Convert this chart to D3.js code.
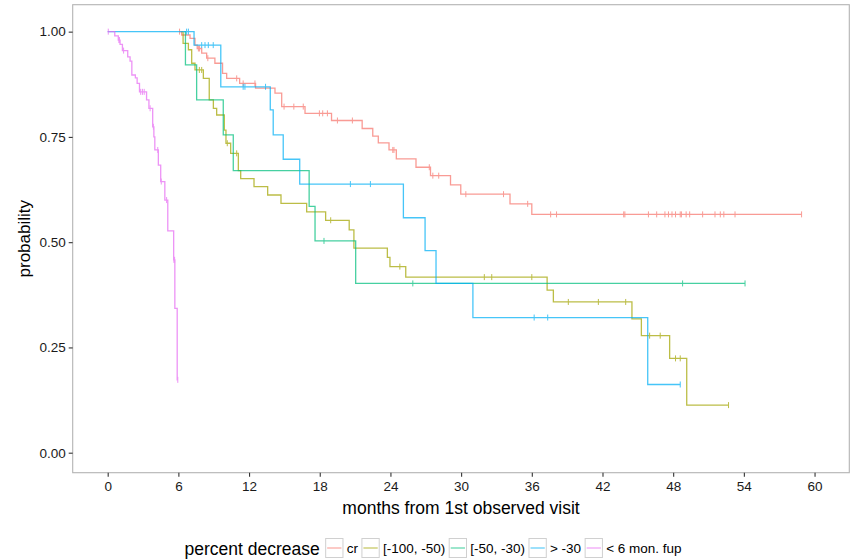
<!DOCTYPE html>
<html>
<head>
<meta charset="utf-8">
<script src="https://cdn.jsdelivr.net/npm/d3@7"></script>
<style>
  body { margin: 0; background: #fff; }
  svg { font-family: "Liberation Sans", Arial, sans-serif; }
</style>
</head>
<body>
<svg width="856" height="560"></svg>
<script>
// groups (legend order)
var groups = ["cr", "[-100, -50)", "[-50, -30)", "> -30", "< 6 mon. fup"];
var colors = ["#F8766D", "#A3A500", "#00BF7D", "#00B0F6", "#E76BF3"];

// first observed time of each group (curve starts here at 1.0)
var startTimes = [6.1, 6.25, 6.5, 0, 0];

// step times (months) and survival after each step
var crTimes = [6.28, 6.99, 7.41, 7.6, 7.98, 8.4, 9.1, 9.75, 10.1, 11.2, 12.55, 14.2, 14.77, 16.75, 19.0, 21.6, 22.5, 22.97, 23.88, 24.5, 26.17, 27.4, 29.1, 29.97, 34.15, 36.0];
var crSurv  = [0.992, 0.984, 0.968, 0.96, 0.949, 0.937, 0.925, 0.901, 0.889, 0.877, 0.866, 0.854, 0.822, 0.806, 0.789, 0.77, 0.752, 0.736, 0.719, 0.698, 0.678, 0.658, 0.636, 0.614, 0.591, 0.566];
var crCensor = [6.1, 7.7, 7.8, 8.5, 10.95, 11.5, 12.5, 14.97, 15.8, 16.6, 17.97, 18.25, 18.65, 19.5, 20.77, 24.2, 24.3, 27.3, 27.6, 28.1, 30.4, 33.6, 35.65, 37.6, 38.1, 43.8, 43.9, 45.9, 46.6, 47.3, 47.6, 47.9, 48.2, 48.6, 48.7, 49.1, 49.4, 50.5, 51.55, 52.0, 52.3, 53.25, 58.9];

var hiTimes = [6.4, 6.85, 7.13, 7.41, 8.12, 8.62, 8.97, 9.25, 9.9, 10.04, 10.44, 11.09, 11.29, 12.42, 13.58, 14.71, 16.89, 18.5, 20.5, 20.9, 23.74, 23.96, 25.3, 37.3, 37.83, 44.5, 45.3, 47.7, 49.15];
var hiSurv  = [0.972, 0.957, 0.925, 0.909, 0.889, 0.838, 0.818, 0.802, 0.766, 0.735, 0.711, 0.67, 0.651, 0.632, 0.612, 0.592, 0.572, 0.552, 0.529, 0.486, 0.464, 0.442, 0.417, 0.386, 0.358, 0.318, 0.278, 0.224, 0.113];
var hiCensor = [7.78, 7.98, 10.15, 10.95, 18.93, 24.8, 31.97, 32.6, 36.0, 39.1, 41.65, 43.97, 46.0, 46.9, 48.2, 48.6, 52.7];

var midTimes = [6.6, 7.55, 9.81, 10.66, 17.1, 17.6, 21.05];
var midSurv  = [0.921, 0.838, 0.755, 0.67, 0.585, 0.503, 0.402];
var midCensor = [18.36, 25.9, 48.8, 54.1];

var loTimes = [7.33, 9.6, 13.8, 14.05, 14.9, 16.3, 25.1, 26.94, 27.87, 31.0, 45.84];
var loSurv  = [0.968, 0.869, 0.814, 0.755, 0.697, 0.638, 0.558, 0.48, 0.402, 0.321, 0.162];
var loCensor = [6.7, 6.85, 7.98, 8.26, 8.54, 8.96, 11.5, 11.65, 13.4, 20.6, 22.3, 36.2, 37.35, 48.6];

var fupTimes = [0.6, 0.9, 1.05, 1.25, 1.7, 1.9, 2.05, 2.35, 2.5, 2.7, 3.3, 3.5, 3.82, 3.92, 4.0, 4.3, 4.5, 4.85, 5.1, 5.6, 5.7, 5.9];
var fupSurv  = [0.99, 0.98, 0.97, 0.955, 0.94, 0.93, 0.897, 0.89, 0.877, 0.857, 0.838, 0.818, 0.774, 0.75, 0.719, 0.683, 0.644, 0.6, 0.527, 0.458, 0.343, 0.173];
var fupCensor = [0.05, 0.95, 1.0, 1.35, 2.8, 2.95, 3.1, 3.6, 3.88, 4.25, 4.55, 5.0, 5.62, 5.68, 5.95];

var xTicks = [0, 6, 12, 18, 24, 30, 36, 42, 48, 54, 60];
var yTicks = [0, 0.25, 0.5, 0.75, 1];

var series = [
  {times: crTimes, surv: crSurv, censor: crCensor},
  {times: hiTimes, surv: hiSurv, censor: hiCensor},
  {times: midTimes, surv: midSurv, censor: midCensor},
  {times: loTimes, surv: loSurv, censor: loCensor},
  {times: fupTimes, surv: fupSurv, censor: fupCensor}
];

var svg = d3.select("svg");
var pLeft = 72.7, pRight = 849.3, pTop = 4.7, pBottom = 472.7;

var x = d3.scaleLinear().domain([-2.97, 62.95]).range([pLeft, pRight]);
var y = d3.scaleLinear().domain([-0.0475, 1.064]).range([pBottom, pTop]);

// step value at time t
function survAt(s, t) {
  var v = 1;
  for (var i = 0; i < s.times.length; i++) {
    if (s.times[i] <= t) v = s.surv[i];
  }
  return v;
}

var line = d3.line()
  .x(function(d) { return x(d[0]); })
  .y(function(d) { return y(d[1]); })
  .curve(d3.curveStepAfter);

var plot = svg.append("g");

series.forEach(function(s, i) {
  var pts = [[startTimes[i], 1]];
  s.times.forEach(function(t, j) { pts.push([t, s.surv[j]]); });
  var tEnd = Math.max(d3.max(s.censor), d3.max(s.times));
  pts.push([tEnd, s.surv[s.surv.length - 1]]);

  var g = plot.append("g").attr("opacity", 0.72);
  g.append("path")
    .attr("d", line(pts))
    .attr("fill", "none")
    .attr("stroke", colors[i])
    .attr("stroke-width", 1.3);

  g.selectAll("line")
    .data(s.censor)
    .enter()
    .append("line")
    .attr("x1", function(d) { return x(d); })
    .attr("x2", function(d) { return x(d); })
    .attr("y1", function(d) { return y(survAt(s, d)) - 3; })
    .attr("y2", function(d) { return y(survAt(s, d)) + 3; })
    .attr("stroke", colors[i])
    .attr("stroke-width", 1);
});

// panel border
svg.append("rect")
  .attr("x", pLeft).attr("y", pTop)
  .attr("width", pRight - pLeft).attr("height", pBottom - pTop)
  .attr("fill", "none")
  .attr("stroke", "#b3b3b3")
  .attr("stroke-width", 1.1);

// axes
var xAxis = svg.append("g")
  .attr("transform", "translate(0," + pBottom + ")")
  .call(d3.axisBottom(x).tickValues(xTicks).tickSize(4).tickPadding(5).tickFormat(d3.format("d")));
var yAxis = svg.append("g")
  .attr("transform", "translate(" + pLeft + ",0)")
  .call(d3.axisLeft(y).tickValues(yTicks).tickSize(4).tickPadding(3).tickFormat(d3.format(".2f")));

[xAxis, yAxis].forEach(function(a) {
  a.select(".domain").remove();
  a.selectAll(".tick line").attr("stroke", "#333").attr("stroke-width", 1.1);
  a.selectAll(".tick text").attr("fill", "#1a1a1a").style("font-size", "13.5px")
    .style("font-family", "'Liberation Sans', Arial, sans-serif");
});

svg.append("text")
  .attr("x", (pLeft + pRight) / 2).attr("y", 514)
  .attr("text-anchor", "middle")
  .style("font-size", "17.5px")
  .text("months from 1st observed visit");

svg.append("text")
  .attr("transform", "translate(30," + (pTop + pBottom) / 2 + ") rotate(-90)")
  .attr("text-anchor", "middle")
  .style("font-size", "17px")
  .text("probability");

// legend
var legend = svg.append("g");
var title = legend.append("text")
  .attr("x", 0).attr("y", 554.5)
  .style("font-size", "17.5px")
  .text("percent decrease");
var cx = title.node().getComputedTextLength() + 6;
groups.forEach(function(gName, i) {
  legend.append("rect")
    .attr("x", cx).attr("y", 538.5)
    .attr("width", 17.3).attr("height", 19)
    .attr("fill", "#fff")
    .attr("stroke", "#d0d0d0");
  legend.append("line")
    .attr("x1", cx + 1.5).attr("x2", cx + 15.8)
    .attr("y1", 548).attr("y2", 548)
    .attr("stroke", colors[i])
    .attr("stroke-opacity", 0.6)
    .attr("stroke-width", 1.3);
  var t = legend.append("text")
    .attr("x", cx + 21).attr("y", 553)
    .style("font-size", "13.5px")
    .text(gName);
  cx += 21 + t.node().getComputedTextLength() + 4;
});
var lw = cx - 4;
legend.attr("transform", "translate(" + (433 - lw / 2) + ",0)");
</script>
</body>
</html>
